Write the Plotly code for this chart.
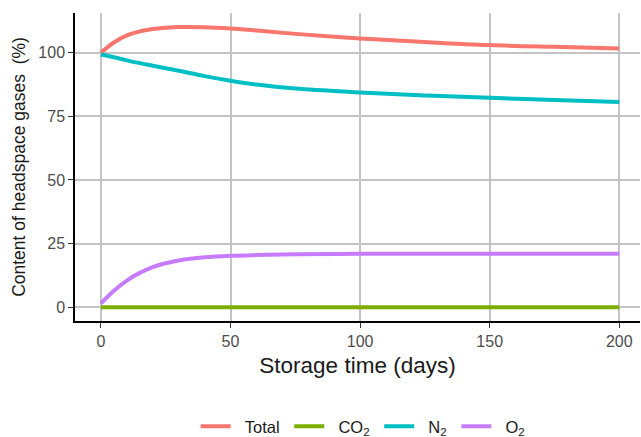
import plotly.graph_objects as go

days = [0, 5, 10, 15, 20, 25, 30, 40, 50, 60, 75, 100, 125, 150, 175, 200]
total = [100.0, 104.0, 106.8, 108.4, 109.3, 109.8, 110.1, 110.0, 109.5, 108.7, 107.4, 105.6, 104.2, 103.0, 102.3, 101.7]
co2 = [0.0] * len(days)
n2 = [99.3, 98.2, 97.0, 95.9, 94.9, 93.9, 92.9, 90.8, 89.0, 87.5, 85.9, 84.4, 83.2, 82.3, 81.4, 80.6]
o2 = [1.5, 6.5, 10.5, 13.5, 15.8, 17.3, 18.4, 19.6, 20.2, 20.5, 20.8, 21.0, 21.0, 21.0, 21.0, 21.0]

NB = "\u00a0"
series = [
    (NB * 2 + "Total" + NB, total, "#F8766D"),
    (NB * 2 + "CO<sub>2</sub>" + NB, co2, "#7CAE00"),
    (NB * 2 + "N<sub>2</sub>" + NB, n2, "#00BFC4"),
    (NB * 2 + "O<sub>2</sub>", o2, "#C77CFF"),
]

fig = go.Figure()
for name, vals, col in series:
    fig.add_trace(go.Scatter(x=days, y=vals, mode="lines", name=name,
                             line=dict(color=col, width=4, shape="spline", smoothing=1.0)))

font = "Liberation Sans, Arial, Helvetica, sans-serif"
fig.update_layout(
    width=641, height=437,
    margin=dict(l=75, r=1, t=13, b=115.5, autoexpand=False),
    paper_bgcolor="white", plot_bgcolor="white",
    font=dict(family=font, color="#1A1A1A"),
    showlegend=True,
    legend=dict(orientation="h", x=0.51, xanchor="center", y=-0.343, yanchor="middle",
                font=dict(size=16.5, color="#1A1A1A"), itemwidth=30, tracegroupgap=0),
    xaxis=dict(range=[-10, 208], tickvals=[0, 50, 100, 150, 200], automargin=False,
               showgrid=True, gridcolor="#C4C4C4", gridwidth=1.5, zeroline=False,
               showline=True, linecolor="black", linewidth=1.5,
               ticks="outside", ticklen=5, tickcolor="#333333", tickwidth=1,
               tickfont=dict(size=16, color="#4D4D4D"),
               title=dict(text="Storage time (days)", font=dict(size=22.5, color="#1A1A1A"), standoff=8)),
    yaxis=dict(range=[-5.4, 115.6], tickvals=[0, 25, 50, 75, 100], automargin=False,
               showgrid=True, gridcolor="#C4C4C4", gridwidth=1.5, zeroline=False,
               showline=True, linecolor="black", linewidth=1.5,
               ticks="outside", ticklen=5, tickcolor="#333333", tickwidth=1,
               tickfont=dict(size=16, color="#4D4D4D"),
               title=dict(text="Content of headspace gases  (%)", font=dict(size=17.5, color="#1A1A1A"), standoff=8)),
)

fig.write_html("out.html", config={"displayModeBar": False},
               post_script="document.body.style.margin='0';")
